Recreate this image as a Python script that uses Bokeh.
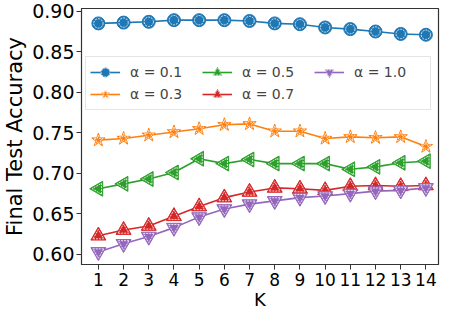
from bokeh.plotting import figure
from bokeh.models import Range1d, FixedTicker, NumeralTickFormatter, Legend, LegendItem
from bokeh.embed import file_html
from bokeh.resources import INLINE

K = list(range(1, 15))
acc_01 = [0.885, 0.886, 0.887, 0.889, 0.889, 0.889, 0.888, 0.885, 0.884, 0.880, 0.878, 0.875, 0.872, 0.871]
acc_03 = [0.741, 0.743, 0.747, 0.751, 0.755, 0.760, 0.761, 0.752, 0.752, 0.743, 0.745, 0.744, 0.745, 0.733]
acc_05 = [0.681, 0.687, 0.693, 0.701, 0.718, 0.712, 0.717, 0.712, 0.712, 0.712, 0.705, 0.708, 0.713, 0.715]
acc_07 = [0.623, 0.630, 0.635, 0.647, 0.659, 0.670, 0.677, 0.682, 0.681, 0.679, 0.684, 0.685, 0.684, 0.685]
acc_10 = [0.603, 0.613, 0.622, 0.633, 0.646, 0.656, 0.662, 0.666, 0.670, 0.672, 0.675, 0.678, 0.679, 0.682]
labels = ["α = 0.1", "α = 0.3", "α = 0.5", "α = 0.7", "α = 1.0"]
colors = ["#1f77b4", "#ff7f0e", "#2ca02c", "#d62728", "#9467bd"]
markers = ["circle", "star", "triangle", "triangle", "inverted_triangle"]
sizes = [13, 14, 15, 15, 15]
y_ticks = [0.60, 0.65, 0.70, 0.75, 0.80, 0.85, 0.90]

p = figure(width=442, height=312, output_backend="svg", toolbar_location=None,
           x_range=Range1d(0.33, 14.5), y_range=Range1d(0.5875, 0.9034),
           min_border_left=2, min_border_right=4, min_border_top=8, min_border_bottom=4)
p.grid.visible = False
p.outline_line_color = "#333333"
p.outline_line_width = 1.2

font = "DejaVu Sans"
for ax in (p.xaxis[0], p.yaxis[0]):
    ax.major_label_text_font = font
    ax.axis_label_text_font = font
    ax.axis_label_text_font_style = "normal"
    ax.axis_line_color = "#333333"
    ax.major_tick_line_color = "#333333"
    ax.major_tick_out = 5
    ax.major_tick_in = 0
    ax.minor_tick_line_color = None
    ax.major_label_text_color = "black"
    ax.axis_label_text_color = "black"

p.xaxis.ticker = FixedTicker(ticks=K)
p.xaxis.axis_label = "K"
p.xaxis.major_label_text_font_size = "17px"
p.xaxis.axis_label_text_font_size = "18px"
p.xaxis.axis_label_standoff = 0
p.xaxis.major_label_standoff = 3
p.yaxis.ticker = FixedTicker(ticks=y_ticks)
p.yaxis.formatter = NumeralTickFormatter(format="0.00")
p.yaxis.axis_label = "Final Test Accuracy"
p.yaxis.major_label_text_font_size = "19px"
p.yaxis.axis_label_text_font_size = "21px"
p.yaxis.axis_label_standoff = 2
p.yaxis.major_label_standoff = 2

series = [acc_01, acc_03, acc_05, acc_07, acc_10]
items = []
for ys, lab, c, m, s in zip(series, labels, colors, markers, sizes):
    ang = 0.5 * 3.14159265 if (lab == "α = 0.5") else 0.0
    r1 = p.line(K, ys, line_color=c, line_width=1.6)
    r2 = p.scatter(K, ys, marker=m, size=s, fill_color=c, line_color=c, line_width=1, angle=ang)
    r3 = p.scatter(K, ys, marker=m, size=s * 0.72, fill_alpha=0, line_color="white",
                   line_width=0.8, line_dash="2 1", angle=ang)
    items.append(LegendItem(label=lab, renderers=[r1, r2, r3]))

legend = Legend(items=items, location=(4, 154), orientation="vertical", nrows=2,
                label_text_font=font, label_text_font_size="14px",
                glyph_width=30, glyph_height=22, label_standoff=10,
                spacing=0, padding=4, margin=0,
                border_line_color="#cccccc", border_line_width=1,
                background_fill_alpha=0.8, label_width=72)
p.add_layout(legend, "center")

open("out.html", "w").write(file_html(p, INLINE))
